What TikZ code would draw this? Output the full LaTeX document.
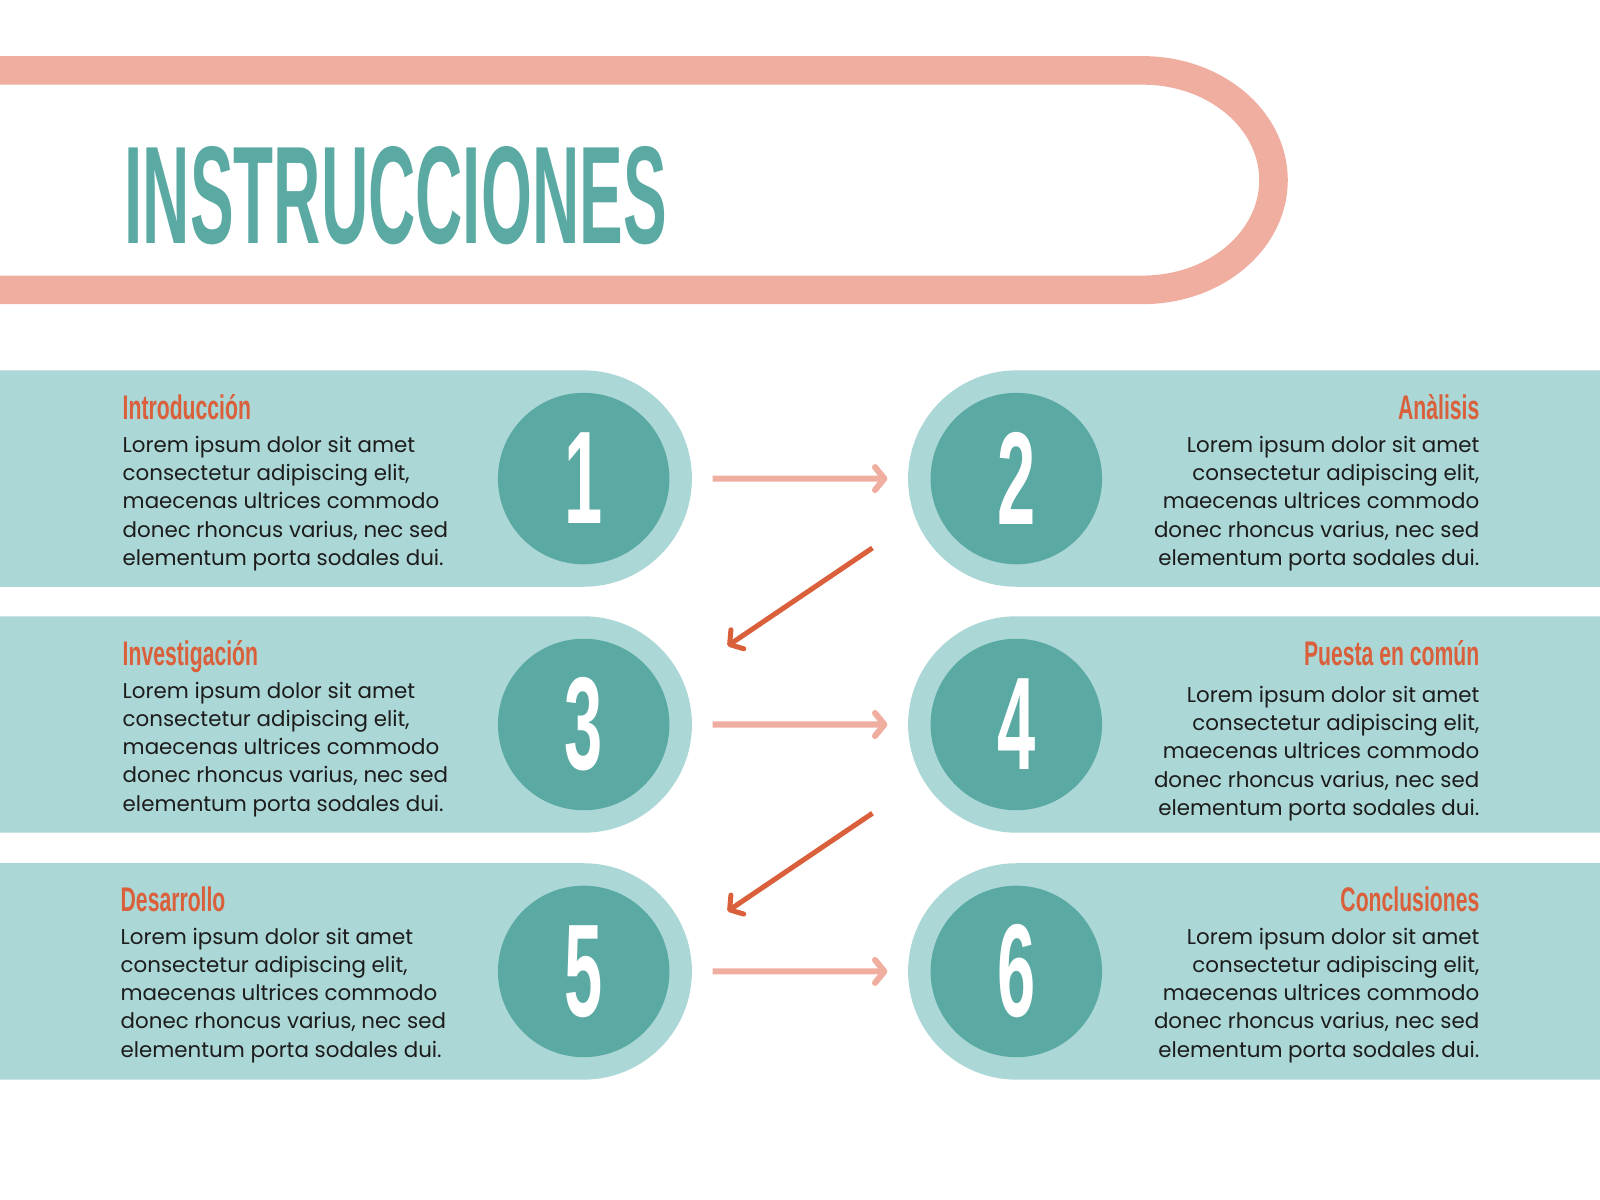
\documentclass[tikz,border=0pt]{standalone}
\usepackage{fontspec}
\setmainfont{Poppins}
\newfontfamily\headfont{Liberation Sans}
\usetikzlibrary{shapes.misc,arrows.meta,positioning}

\definecolor{loopPink}{HTML}{F0AEA1}
\definecolor{bandTeal}{HTML}{ABD7D6}
\definecolor{circTeal}{HTML}{5AA9A3}
\definecolor{headOrange}{HTML}{D9603B}
\definecolor{bodyText}{HTML}{1C1C1C}

\tikzset{
  bandL/.style={rounded rectangle, rounded rectangle left arc=none, fill=bandTeal,
    minimum width=16.95cm, minimum height=5.3cm, inner sep=0},
  bandR/.style={rounded rectangle, rounded rectangle right arc=none, fill=bandTeal,
    minimum width=16.95cm, minimum height=5.3cm, inner sep=0},
  numcircle/.style={circle, fill=circTeal, minimum size=4.2cm, inner sep=0, text=white},
  headL/.style={anchor=base west, inner sep=0, text=headOrange},
  headR/.style={anchor=base east, inner sep=0, text=headOrange},
  bodyL/.style={anchor=north west, align=left, inner sep=0, text=bodyText,
    font=\fontsize{14.9}{19.7}\selectfont},
  bodyR/.style={anchor=north east, align=right, inner sep=0, text=bodyText,
    font=\fontsize{14.9}{19.7}\selectfont},
  nextarrow/.style={draw=loopPink, line width=4.25pt, shorten <=0.5cm, shorten >=0.5cm,
    -{Straight Barb[length=6.5pt,width=16pt,round]}},
  backarrow/.style={draw=headOrange, line width=3.5pt,
    -{Straight Barb[length=6.5pt,width=16pt,round]}}
}

\newcommand{\headtxt}[1]{\scalebox{0.62}[1]{\headfont\fontsize{23.8}{24}\selectfont\bfseries #1}}
\newcommand{\numtxt}[1]{\scalebox{0.52}[1]{\headfont\fontsize{92}{92}\selectfont\bfseries #1}}
\newcommand{\loremtxt}{Lorem ipsum dolor sit amet\\consectetur adipiscing elit,\\maecenas ultrices commodo\\donec rhoncus varius, nec sed\\elementum porta sodales dui.}

\begin{document}
\begin{tikzpicture}[x=0.025cm, y=0.025cm]
\useasboundingbox (0,0) rectangle (1568,-1176);

% title loop
\draw[loopPink, line width=0.7cm] (-20,-69) -- (1120,-69)
  arc[start angle=90, end angle=-90, x radius=3.2cm, y radius=2.6875cm] -- (-20,-284);
\node[anchor=south west, inner sep=0, text=circTeal] (title) at (122,-240)
  {\resizebox{13.275cm}{2.375cm}{\headfont\bfseries INSTRUCCIONES}};

% bands
\node[bandL] (band1) at (339,-469) {};
\node[bandR] (band2) at (1229,-469) {};
\node[bandL] (band3) at (339,-710) {};
\node[bandR] (band4) at (1229,-710) {};
\node[bandL] (band5) at (339,-952) {};
\node[bandR] (band6) at (1229,-952) {};

% numbers
\node[numcircle] (c1) at (572,-469) {\numtxt{1}};
\node[numcircle] (c2) at (996,-469) {\numtxt{2}};
\node[numcircle] (c3) at (572,-710) {\numtxt{3}};
\node[numcircle] (c4) at (996,-710) {\numtxt{4}};
\node[numcircle] (c5) at (572,-952) {\numtxt{5}};
\node[numcircle] (c6) at (996,-952) {\numtxt{6}};

% texts
\node[headL] (h1) at (120,-411) {\headtxt{Introducción}};
\node[bodyL] (t1) at (120,-427) {\loremtxt};
\node[headR] (h2) at (1450,-411) {\headtxt{Anàlisis}};
\node[bodyR] (t2) at (1450,-427) {\loremtxt};

\node[headL] (h3) at (120,-652) {\headtxt{Investigación}};
\node[bodyL] (t3) at (120,-668) {\loremtxt};
\node[headR] (h4) at (1450,-652) {\headtxt{Puesta en común}};
\node[bodyR] (t4) at (1450,-672) {\loremtxt};

\node[headL] (h5) at (118,-893) {\headtxt{Desarrollo}};
\node[bodyL] (t5) at (118,-909) {\loremtxt};
\node[headR] (h6) at (1450,-893) {\headtxt{Conclusiones}};
\node[bodyR] (t6) at (1450,-909) {\loremtxt};

% arrows
\coordinate (d1s) at (855,-537);
\coordinate (d1e) at (713,-633);
\coordinate (d2s) at (855,-797);
\coordinate (d2e) at (713,-893);

\draw[nextarrow] (band1) -- (band2);
\draw[nextarrow] (band3) -- (band4);
\draw[nextarrow] (band5) -- (band6);
\draw[backarrow] (d1s) -- (d1e);
\draw[backarrow] (d2s) -- (d2e);
\end{tikzpicture}
\end{document}
